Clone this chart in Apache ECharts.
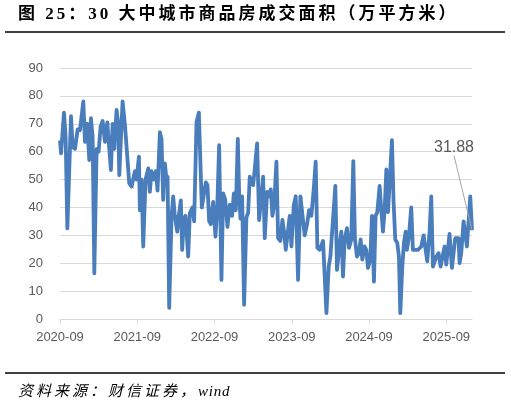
<!DOCTYPE html>
<html>
<head>
<meta charset="utf-8">
<script src="https://cdn.jsdelivr.net/npm/echarts@6.0.0/dist/echarts.min.js"></script>
<style>
html,body{margin:0;padding:0;background:#fff;}
#c{width:511px;height:406px;}
</style>
</head>
<body>
<div id="c"></div>
<script>
var monthPos = [
0,0.16,0.62,0.88,1.14,1.71,1.97,2.33,2.74,3.10,3.62,3.88,4.24,4.55,4.81,5.07,5.33,5.69,6.0,6.31,
6.62,6.98,7.34,7.65,7.91,8.17,8.43,8.79,9.05,9.21,9.72,10.09,10.76,11.12,11.38,11.64,11.90,12.26,12.41,12.67,
12.93,13.29,13.71,13.96,14.22,14.58,14.90,15.15,15.52,15.77,16.03,16.29,16.55,16.71,16.96,17.33,17.58,17.84,18.21,18.46,
18.77,18.98,19.24,19.50,19.91,20.17,20.58,20.84,21.21,21.57,21.83,22.03,22.34,22.65,22.91,23.17,23.43,23.79,24.15,24.41,
24.72,25.08,25.34,25.65,26.01,26.38,26.74,27.0,27.31,27.62,27.83,28.03,28.29,28.60,28.96,29.22,29.48,29.74,30.0,30.26,
30.62,30.93,31.28,31.55,31.81,32.17,32.48,32.74,33.0,33.26,33.62,33.88,34.24,34.55,34.81,35.07,35.69,35.95,36.31,36.62,
36.98,37.34,37.65,38.01,38.38,38.69,39.05,39.41,39.72,39.98,40.34,40.86,41.39,41.74,42.0,42.3,42.77,43.03,43.34,43.70,
43.96,44.22,44.58,44.89,45.25,45.56,45.82,46.13,46.44,46.70,46.96,47.32,47.58,47.84,48.2,48.46,48.77,49.03,49.29,49.65,
49.91,50.17,50.43,50.69,50.95,51.21,51.56,51.82,52.08,52.39,52.65,52.86,53.17,53.43,53.69,53.89,54.2,54.56,54.82,55.08,
55.6,56.12,56.48,56.79,57.05,57.41,57.67,57.93,58.19,58.45,58.81,59.12,59.38,59.74,60.0,60.26,60.51,60.88,61.14,61.4,
61.66,61.91,62.07,62.33,62.69,62.95,63.21,63.47,63.73,64
];
// 30 large/medium cities commodity housing transaction area (10k m2)
var area = [
64,59.4,74,65,32.5,72.7,61.7,61,68,67.7,78,63.5,70,57,72,65,16.4,61,60,69,
71,63.5,70.5,70,53.4,70,61,75,70,51.6,78,69.5,48.6,47.5,47,53,50,58.2,39,50,
26,50,54,45.6,53,50,53,46,67,64.5,42.7,55.8,50,51,4,36.7,44,37,31.3,37,
42.5,24.8,36,37,22.4,38,40,35,70.7,74,73.5,40,39.5,49,48,35,34,42,29.5,39,
62.3,14,45,43,33,41,37,45,39,64.6,45,36,44,5.1,36.5,38,51,50.5,48,54,
63,35.5,44,51,29,45.6,44,46.5,37,40.7,56.4,29,28,35.5,31.3,24.8,37,26,40.7,44,
14,44,43.5,30,34,39,37,46.5,56.4,25.5,24.8,28,2.1,18.8,22.4,23,47.7,17.6,24.8,31.3,
15.2,28.5,32.6,25.5,28.5,56.6,28.5,22.4,23.6,28.5,21.3,26,24.8,18.3,21.3,37,13.4,37,38.3,47.7,
39,31.3,39,53.6,38.3,49,64.1,41.9,28.5,27.3,22.4,2.1,18.8,27.3,31.3,24.8,29.5,40,24.8,25.5,
24.8,26,30,30.5,20.7,31.3,44,18.8,19.5,22.4,23.6,18.8,19.5,26,19.5,20,30.5,18.3,18.8,29,
28.5,29,20,23.6,35,35,26,35,44,31.88
];
var tickPos = [0,12,24,36,48,60];
var tickLabels = ['2020-09','2021-09','2022-09','2023-09','2024-09','2025-09'];
var titleText = '图 25：30 大中城市商品房成交面积（万平方米）';
var sourceText = '资料来源：财信证券，wind';

// lay out a string with letter spacing as a group of text pieces
var measureCtx = document.createElement('canvas').getContext('2d');
function spacedText(str, font, spacing, asciiSpacing, x0, y, fill) {
  measureCtx.font = font;
  var children = [], x = x0;
  for (var i = 0; i < str.length; i++) {
    var ch = str[i];
    if (ch !== ' ') {
      children.push({type:'text', x:x, y:y, style:{text:ch, font:font, fill:fill, verticalAlign:'middle'}});
    }
    x += measureCtx.measureText(ch).width + (ch.charCodeAt(0) < 128 ? asciiSpacing : spacing);
  }
  return {type:'group', children:children};
}

var seriesData = monthPos.map(function(m,i){ return [m, area[i]]; });
var lastIdx = seriesData.length - 1;
seriesData[lastIdx] = {
  value: seriesData[lastIdx],
  label: {show:true, position:'top', formatter: String(area[lastIdx]),
          fontSize:16, color:'#595959', fontFamily:'Liberation Sans'},
  labelLine: {show:true, lineStyle:{color:'#a6a6a6', width:1}}
};

var titleFont = 'bold 17px "Liberation Serif", "Noto Sans CJK SC"';
var sourceFont = 'italic 15px "Liberation Serif", "Noto Sans CJK SC"';

var chart = echarts.init(document.getElementById('c'), null, {renderer:'canvas'});
chart.setOption({
  animation:false,
  grid:{left:60, right:39, top:68, bottom:87},
  xAxis:{
    type:'value', min:0, max:64, interval:12,
    axisLine:{show:true, lineStyle:{color:'#d9d9d9', width:1}},
    axisTick:{show:true, customValues:tickPos, length:5, lineStyle:{color:'#d9d9d9'}},
    axisLabel:{customValues:tickPos, margin:12, color:'#595959', fontSize:13, fontFamily:'Liberation Sans',
      formatter:function(v){ var k = tickPos.indexOf(v); return k>=0 ? tickLabels[k] : ''; }},
    splitLine:{show:false}
  },
  yAxis:{
    type:'value', min:0, max:90, interval:10,
    axisLine:{show:false}, axisTick:{show:false},
    axisLabel:{margin:17, color:'#595959', fontSize:13, fontFamily:'Liberation Sans'},
    splitLine:{lineStyle:{color:'#d9d9d9', width:1}}
  },
  series:[{
    type:'line', data:seriesData, showSymbol:true, symbol:'circle', symbolSize:1,
    lineStyle:{color:'#4a7dbb', width:3.8, join:'round'},
    itemStyle:{color:'#4a7dbb'},
    labelLayout:function(p){ return p.dataIndex===lastIdx ? {dx:-18, dy:-69} : {}; }
  }],
  graphic:[
    spacedText(titleText, titleFont, 3, 3, 18, 15, '#000'),
    {type:'line', shape:{x1:5,y1:32,x2:505,y2:32}, style:{stroke:'#000', lineWidth:1.3}},
    {type:'line', shape:{x1:5,y1:373,x2:505,y2:373}, style:{stroke:'#000', lineWidth:1.3}},
    spacedText(sourceText, sourceFont, 3, 0.8, 18, 392, '#000')
  ]
});
</script>
</body>
</html>
